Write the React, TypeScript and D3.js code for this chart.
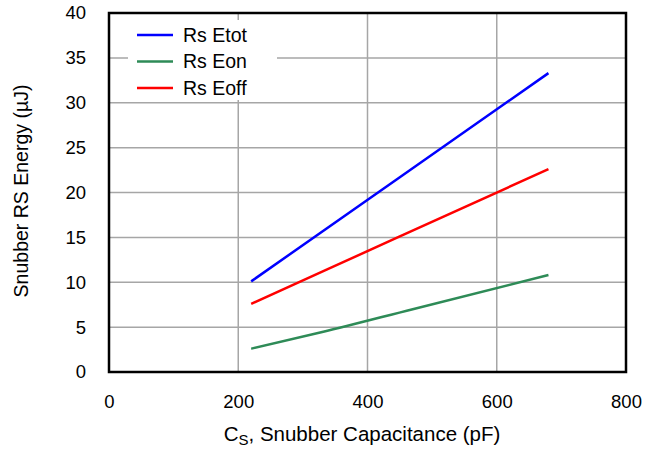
import React, { useEffect, useRef } from "react";
import * as d3 from "d3";

// capacitance (pF) and energies (uJ)
const capEtot = [220, 450, 680];
const etot = [10.1, 21.7, 33.3];
const capEon = [220, 330, 470, 680];
const eon = [2.6, 4.45, 7.0, 10.8];
const capEoff = [220, 450, 680];
const eoff = [7.6, 15.1, 22.6];

const xTicks = [0, 200, 400, 600, 800];
const yTicks = [0, 5, 10, 15, 20, 25, 30, 35, 40];

const seriesNames = ["Rs Etot", "Rs Eon", "Rs Eoff"];
const seriesColors = ["#0000ff", "#2e8b57", "#ff0000"];

const W = 650;
const H = 449;
const FONT = "Liberation Sans, Arial, Helvetica, sans-serif";

const App: React.FC = () => {
  const svgRef = useRef<SVGSVGElement | null>(null);

  useEffect(() => {
    if (!svgRef.current) return;
    const margin = { top: 13, right: 24, bottom: 77, left: 109 };
    const innerWidth = W - margin.left - margin.right;
    const innerHeight = H - margin.top - margin.bottom;

    const root = d3.select(svgRef.current);
    root.selectAll("*").remove();

    const svg = root
      .append("g")
      .attr("transform", `translate(${margin.left},${margin.top})`);

    const xScale = d3.scaleLinear().domain([0, 800]).range([0, innerWidth]);
    const yScale = d3.scaleLinear().domain([0, 40]).range([innerHeight, 0]);

    // grid
    svg
      .append("g")
      .selectAll("line.vgrid")
      .data(xTicks.slice(1, -1))
      .enter()
      .append("line")
      .attr("x1", (d) => xScale(d))
      .attr("x2", (d) => xScale(d))
      .attr("y1", 0)
      .attr("y2", innerHeight)
      .attr("stroke", "#a6a6a6")
      .attr("stroke-width", 1.5);

    svg
      .append("g")
      .selectAll("line.hgrid")
      .data(yTicks.slice(1, -1))
      .enter()
      .append("line")
      .attr("x1", 0)
      .attr("x2", innerWidth)
      .attr("y1", (d) => yScale(d))
      .attr("y2", (d) => yScale(d))
      .attr("stroke", "#a6a6a6")
      .attr("stroke-width", 1.5);

    // x axis labels
    const xAxis = svg
      .append("g")
      .attr("transform", `translate(0,${innerHeight})`)
      .call(
        d3
          .axisBottom(xScale)
          .tickValues(xTicks)
          .tickSize(0)
          .tickPadding(23)
          .tickFormat(d3.format("d"))
      );
    xAxis.select(".domain").remove();
    xAxis
      .selectAll("text")
      .attr("fill", "#000")
      .attr("font-family", FONT)
      .attr("font-size", "18.5px");

    // y axis labels
    const yAxis = svg
      .append("g")
      .call(
        d3
          .axisLeft(yScale)
          .tickValues(yTicks)
          .tickSize(0)
          .tickPadding(23)
          .tickFormat(d3.format("d"))
      );
    yAxis.select(".domain").remove();
    yAxis
      .selectAll("text")
      .attr("fill", "#000")
      .attr("font-family", FONT)
      .attr("font-size", "18.5px");

    // legend background
    svg
      .append("rect")
      .attr("x", 19)
      .attr("y", 7)
      .attr("width", 149)
      .attr("height", 80)
      .attr("fill", "#fff");

    // series lines
    const lineGen = d3
      .line<[number, number]>()
      .x((d) => xScale(d[0]))
      .y((d) => yScale(d[1]))
      .curve(d3.curveMonotoneX);

    const seriesData: [number, number][][] = [
      capEtot.map((c, i) => [c, etot[i]]),
      capEon.map((c, i) => [c, eon[i]]),
      capEoff.map((c, i) => [c, eoff[i]]),
    ];

    seriesData.forEach((pts, i) => {
      svg
        .append("path")
        .datum(pts)
        .attr("fill", "none")
        .attr("stroke", seriesColors[i])
        .attr("stroke-width", 2.5)
        .attr("d", lineGen);
    });

    // legend
    const legend = svg.append("g").attr("transform", "translate(28,22)");
    seriesNames.forEach((name, i) => {
      const g = legend.append("g").attr("transform", `translate(0,${i * 26.5})`);
      g.append("line")
        .attr("x1", 0)
        .attr("x2", 36)
        .attr("y1", 0)
        .attr("y2", 0)
        .attr("stroke", seriesColors[i])
        .attr("stroke-width", 2.5);
      g.append("text")
        .attr("x", 46)
        .attr("y", 0)
        .attr("dy", "0.35em")
        .attr("font-family", FONT)
        .attr("font-size", "19.5px")
        .attr("fill", "#000")
        .text(name);
    });

    // frame
    svg
      .append("rect")
      .attr("x", 0)
      .attr("y", 0)
      .attr("width", innerWidth)
      .attr("height", innerHeight)
      .attr("fill", "none")
      .attr("stroke", "#000")
      .attr("stroke-width", 2.5);

    // x title
    const xTitle = root
      .append("text")
      .attr("x", 362)
      .attr("y", 441)
      .attr("text-anchor", "middle")
      .attr("font-family", FONT)
      .attr("font-size", "20.5px")
      .attr("fill", "#000");
    xTitle.append("tspan").text("C");
    xTitle
      .append("tspan")
      .attr("font-size", "15px")
      .attr("dy", 4)
      .text("S");
    xTitle.append("tspan").attr("dy", -4).text(", Snubber Capacitance (pF)");

    // y title
    root
      .append("text")
      .attr("transform", `translate(28,191) rotate(-90)`)
      .attr("text-anchor", "middle")
      .attr("font-family", FONT)
      .attr("font-size", "19.5px")
      .attr("fill", "#000")
      .text("Snubber RS Energy (\u00b5J)");
  }, []);

  return (
    <div style={{ position: "absolute", left: 0, top: 0 }}>
      <svg ref={svgRef} width={W} height={H} style={{ display: "block", background: "#fff" }} />
    </div>
  );
};

export default App;
